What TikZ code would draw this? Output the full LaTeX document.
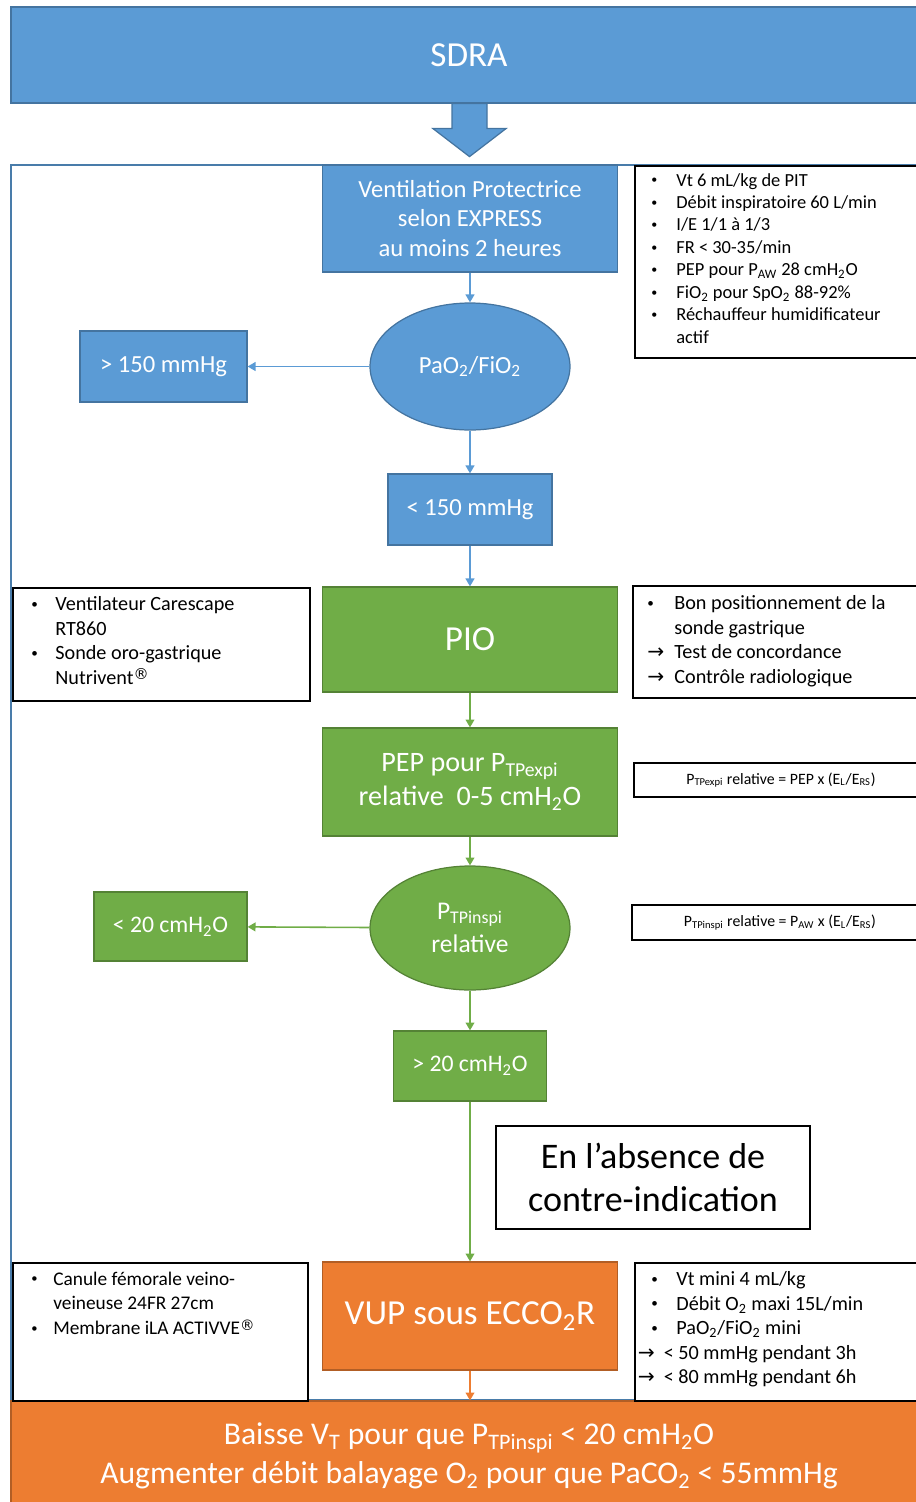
\documentclass[tikz,border=0pt]{standalone}
\usepackage{fontspec}
\setmainfont{Carlito}
\newfontfamily\symfont{DejaVu Sans}
\usetikzlibrary{calc,shapes.geometric,arrows.meta}
\definecolor{bleu}{HTML}{5B9BD5}
\definecolor{vert}{HTML}{70AD47}
\definecolor{orangef}{HTML}{ED7D31}
\newcommand{\puce}{\raisebox{0.12em}{\scalebox{0.65}{\textbullet}}}
\newcommand{\fleche}{{\symfont →}}
\newcommand{\marque}{\raisebox{0.45ex}{\scalebox{0.75}{{\symfont ®}}}}

\begin{document}
\begin{tikzpicture}[x=0.02cm,y=-0.02cm,
    boite/.style={draw=#1!75!black, fill=#1, text=white, line width=0.7pt, align=center, inner sep=2pt},
    note/.style={draw=black, fill=white, line width=1.1pt, anchor=north west, inner sep=0pt},
    notetexte/.style={anchor=base west, inner sep=0pt},
    fl/.style={draw=#1, line width=0.9pt, -{Triangle[length=4.5pt,width=5pt]}}]
    \useasboundingbox (0,0) rectangle (916,1502);
    % cadre general
    \draw[bleu!80!black, line width=0.8pt] (11,165) rectangle (935,1400);
    % SDRA et grosse fleche
    \node[boite=bleu, minimum width=18.32cm, minimum height=1.92cm, font=\fontsize{20}{24}\selectfont] (sdra) at (469,55) {SDRA};
    \draw[fill=bleu, draw=bleu!75!black, line width=0.7pt] (sdra.south)++(-17,0)--++(35,0)--++(0,25)--++(19,0)--++(-36.5,28)--++(-36.5,-28)--++(19,0)--cycle;
    % colonne centrale
    \node[boite=bleu, minimum width=5.9cm, minimum height=2.14cm, font=\fontsize{14}{17}\selectfont] (vent) at (470,218.5) {Ventilation Protectrice\\selon EXPRESS\\au moins 2 heures};
    \node[ellipse, boite=bleu, minimum width=4cm, minimum height=2.54cm, font=\fontsize{14}{17}\selectfont] (rapport) at (470,366.5) {PaO\textsubscript{2}/FiO\textsubscript{2}};
    \node[boite=bleu, minimum width=3.34cm, minimum height=1.42cm, font=\fontsize{14}{17}\selectfont] (sup150) at (163.5,366.5) {> 150 mmHg};
    \node[boite=bleu, minimum width=3.28cm, minimum height=1.42cm, font=\fontsize{14}{17}\selectfont] (inf150) at (470,509.5) {< 150 mmHg};
    \node[boite=vert, minimum width=5.9cm, minimum height=2.1cm, font=\fontsize{20}{24}\selectfont] (pio) at (470,639.5) {PIO};
    \node[boite=vert, minimum width=5.9cm, minimum height=2.16cm, font=\fontsize{16}{19.5}\selectfont] (pep) at (470,782) {PEP pour P\textsubscript{TPexpi}\\relative\ \ 0-5 cmH\textsubscript{2}O};
    \node[ellipse, boite=vert, minimum width=4cm, minimum height=2.48cm, font=\fontsize{14.5}{19}\selectfont] (ptp) at (470,928) {P\textsubscript{TPinspi}\\relative};
    \node[boite=vert, minimum width=3.06cm, minimum height=1.38cm, font=\fontsize{13.5}{16}\selectfont] (inf20) at (170.5,926.5) {< 20 cmH\textsubscript{2}O};
    \node[boite=vert, minimum width=3.06cm, minimum height=1.4cm, font=\fontsize{13.5}{16}\selectfont] (sup20) at (470,1066) {> 20 cmH\textsubscript{2}O};
    \node[draw=black, line width=1.2pt, minimum width=6.28cm, minimum height=2.06cm, align=center, font=\fontsize{20.5}{24.5}\selectfont] (absence) at (653,1177.5) {En l’absence de\\contre-indication};
    \node[boite=orangef, minimum width=5.9cm, minimum height=2.16cm, font=\fontsize{20}{24}\selectfont] (vup) at (470,1316) {VUP sous ECCO\textsubscript{2}R};
    \node[boite=orangef, minimum width=18.32cm, minimum height=2.2cm, font=\fontsize{18}{22}\selectfont] (baisse) at (469,1456) {Baisse V\textsubscript{T} pour que P\textsubscript{TPinspi} < 20 cmH\textsubscript{2}O\\Augmenter débit balayage O\textsubscript{2} pour que PaCO\textsubscript{2} < 55mmHg};
    % notes
    \node[note, minimum width=5.82cm, minimum height=3.84cm] (params) at (634,165) {};
    \node[notetexte, font=\fontsize{10.5}{12.8}\selectfont] (paramstxt) at ($(params.north west)+(17,21)$) {\begin{tabular}[t]{@{}p{0.5cm}@{}l@{}}
        \puce & Vt 6 mL/kg de PIT\\
        \puce & Débit inspiratoire 60 L/min\\
        \puce & I/E 1/1 à 1/3\\
        \puce & FR < 30-35/min\\
        \puce & PEP pour P\textsubscript{AW} 28 cmH\textsubscript{2}O\\
        \puce & FiO\textsubscript{2} pour SpO\textsubscript{2} 88-92\%\\
        \puce & Réchauffeur humidificateur\\
              & actif
    \end{tabular}};
    \node[note, minimum width=5.94cm, minimum height=2.26cm] (materiel) at (12,587) {};
    \node[notetexte, font=\fontsize{11.5}{14}\selectfont] (materieltxt) at ($(materiel.north west)+(19,23.5)$) {\begin{tabular}[t]{@{}p{0.48cm}@{}l@{}}
        \puce & Ventilateur Carescape\\
              & RT860\\
        \puce & Sonde oro-gastrique\\
              & Nutrivent\marque
    \end{tabular}};
    \node[note, minimum width=5.86cm, minimum height=2.24cm] (sonde) at (632,585) {};
    \node[notetexte, font=\fontsize{11.5}{14}\selectfont] (sondetxt) at ($(sonde.north west)+(15,24.5)$) {\begin{tabular}[t]{@{}p{0.54cm}@{}l@{}}
        \puce & Bon positionnement de la\\
              & sonde gastrique\\
        \fleche & Test de concordance\\
        \fleche & Contrôle radiologique
    \end{tabular}};
    \node[note, anchor=center, minimum width=5.88cm, minimum height=0.68cm, font=\fontsize{9}{11}\selectfont] (expi) at (781,780) {P\textsubscript{TPexpi} relative = PEP x (E\textsubscript{L}/E\textsubscript{RS})};
    \node[note, anchor=center, minimum width=5.92cm, minimum height=0.7cm, font=\fontsize{9}{11}\selectfont] (inspi) at (780,922.5) {P\textsubscript{TPinspi} relative = P\textsubscript{AW} x (E\textsubscript{L}/E\textsubscript{RS})};
    \node[note, minimum width=5.9cm, minimum height=2.76cm] (canule) at (12,1262) {};
    \node[notetexte, font=\fontsize{11}{14.2}\selectfont] (canuletxt) at ($(canule.north west)+(19,23)$) {\begin{tabular}[t]{@{}p{0.44cm}@{}l@{}}
        \puce & Canule fémorale veino-\\
              & veineuse 24FR 27cm\\
        \puce & Membrane iLA ACTIVVE\marque
    \end{tabular}};
    \node[note, minimum width=5.82cm, minimum height=2.76cm] (cible) at (634,1262) {};
    \node[notetexte, font=\fontsize{11.5}{14}\selectfont] (cibletxt) at ($(cible.north west)+(17,23.5)$) {\begin{tabular}[t]{@{}p{0.5cm}@{}l@{}}
        \puce & Vt mini 4 mL/kg\\
        \puce & Débit O\textsubscript{2} maxi 15L/min\\
        \puce & PaO\textsubscript{2}/FiO\textsubscript{2} mini\\
        \multicolumn{2}{@{}l@{}}{\hspace{-0.27cm}\fleche\hspace{0.18cm}< 50 mmHg pendant 3h}\\
        \multicolumn{2}{@{}l@{}}{\hspace{-0.27cm}\fleche\hspace{0.18cm}< 80 mmHg pendant 6h}
    \end{tabular}};
    % fleches
    \draw[fl=bleu] (vent) -- (rapport);
    \draw[fl=bleu] (rapport) -- (sup150);
    \draw[fl=bleu] (rapport) -- (inf150);
    \draw[fl=bleu] (inf150) -- (pio);
    \draw[fl=vert] (pio) -- (pep);
    \draw[fl=vert] (pep) -- (ptp);
    \draw[fl=vert] (ptp) -- (inf20);
    \draw[fl=vert] (ptp) -- (sup20);
    \draw[fl=vert] (sup20) -- (vup);
    \draw[fl=orangef] (vup) -- (vup |- baisse.north);
\end{tikzpicture}
\end{document}
